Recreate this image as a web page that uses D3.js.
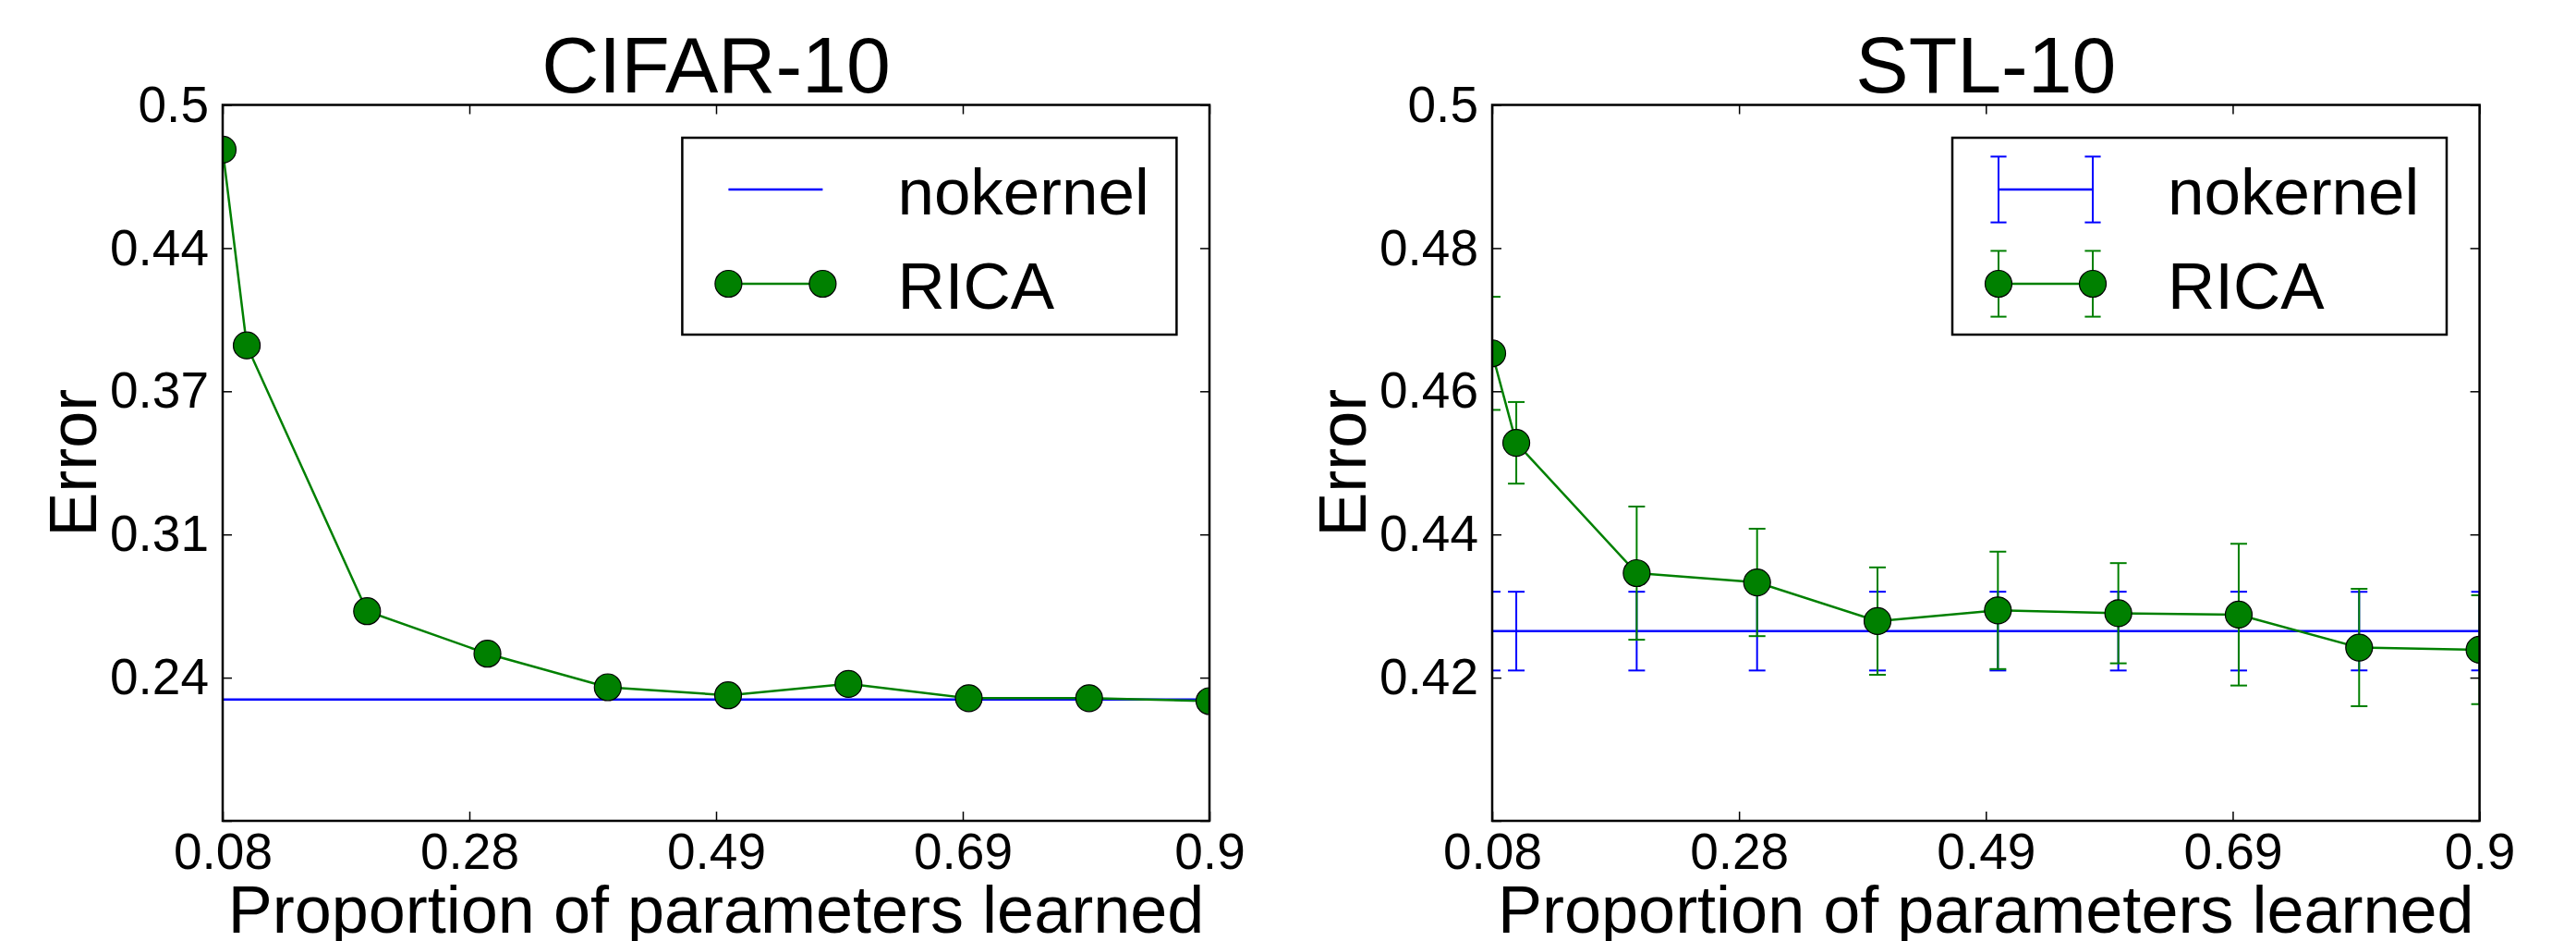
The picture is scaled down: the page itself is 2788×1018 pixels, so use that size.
<!DOCTYPE html>
<html>
<head>
<meta charset="utf-8">
<script src="https://cdn.jsdelivr.net/npm/d3@7/dist/d3.min.js"></script>
<style>
  html, body { margin: 0; padding: 0; background: #fff; }
  svg text { font-family: "Liberation Sans", Arial, Helvetica, sans-serif; fill: #000; }
</style>
</head>
<body>
<svg id="chart" width="2788" height="1018"></svg>
<script>
// ---------------- data ----------------
const proportions = [0.08, 0.1, 0.2, 0.3, 0.4, 0.5, 0.6, 0.7, 0.8, 0.9];

const cifarRica = [0.480, 0.3925, 0.2737, 0.2547, 0.2397, 0.2361, 0.2412, 0.2348, 0.2348, 0.2335];
const cifarNokernel = 0.2342;

const stlRica = [0.4653, 0.4528, 0.4346, 0.4333, 0.4279, 0.4294, 0.4290, 0.4288, 0.4242, 0.4239];
const stlRicaErr = [0.0079, 0.0057, 0.0093, 0.0075, 0.0075, 0.0082, 0.0070, 0.0099, 0.0082, 0.0076];
const stlNokernel = 0.4265;
const stlNokernelErr = 0.0055;

const xTickValues = [0.08, 0.285, 0.49, 0.695, 0.9];
const xTickLabels = ["0.08", "0.28", "0.49", "0.69", "0.9"];

const cifarYTickValues = [0.18, 0.244, 0.308, 0.372, 0.436, 0.5];
const cifarYTickLabels = ["", "0.24", "0.31", "0.37", "0.44", "0.5"];

const stlYTickValues = [0.40, 0.42, 0.44, 0.46, 0.48, 0.50];
const stlYTickLabels = ["", "0.42", "0.44", "0.46", "0.48", "0.5"];

const seriesNames = ["nokernel", "RICA"];
const titles = ["CIFAR-10", "STL-10"];
const xLabel = "Proportion of parameters learned";
const yLabel = "Error";

// ---------------- drawing ----------------
const BLUE = "#0000ff", GREEN = "#008000";
const svg = d3.select("#chart");
svg.append("rect").attr("width", 2788).attr("height", 1018).attr("fill", "#fff");

const panels = [
  { left: 241, right: 1309, title: titles[0], yDomain: [0.18, 0.5],
    yTicks: cifarYTickValues, yLabels: cifarYTickLabels,
    rica: cifarRica, ricaErr: null, nok: cifarNokernel, nokErr: null, ylabX: 104 },
  { left: 1615, right: 2683.6, title: titles[1], yDomain: [0.40, 0.50],
    yTicks: stlYTickValues, yLabels: stlYTickLabels,
    rica: stlRica, ricaErr: stlRicaErr, nok: stlNokernel, nokErr: stlNokernelErr, ylabX: 1478 }
];
const plotTop = 113.5, plotBottom = 888;

panels.forEach((p, pi) => {
  const x = d3.scaleLinear().domain([0.08, 0.9]).range([p.left, p.right]);
  const y = d3.scaleLinear().domain(p.yDomain).range([plotBottom, plotTop]);
  const g = svg.append("g");

  const clipId = "clip" + pi;
  svg.append("clipPath").attr("id", clipId).append("rect")
    .attr("x", p.left).attr("y", plotTop).attr("width", p.right - p.left).attr("height", plotBottom - plotTop);

  const plot = g.append("g").attr("clip-path", `url(#${clipId})`);

  // nokernel
  plot.append("path")
    .datum(proportions)
    .attr("d", d3.line().x(d => x(d)).y(() => y(p.nok)))
    .attr("fill", "none").attr("stroke", BLUE).attr("stroke-width", 2.5);

  const capW = 9;
  function errBars(sel, vals, errs, color) {
    const eb = sel.append("g").attr("stroke", color).attr("stroke-width", 2).attr("fill", "none");
    proportions.forEach((px, i) => {
      const v = Array.isArray(vals) ? vals[i] : vals;
      const e = Array.isArray(errs) ? errs[i] : errs;
      const cx = x(px), y1 = y(v + e), y2 = y(v - e);
      eb.append("line").attr("x1", cx).attr("x2", cx).attr("y1", y1).attr("y2", y2);
      eb.append("line").attr("x1", cx - capW).attr("x2", cx + capW).attr("y1", y1).attr("y2", y1);
      eb.append("line").attr("x1", cx - capW).attr("x2", cx + capW).attr("y1", y2).attr("y2", y2);
    });
  }
  if (p.nokErr !== null) errBars(plot, p.nok, p.nokErr, BLUE);
  if (p.ricaErr !== null) errBars(plot, p.rica, p.ricaErr, GREEN);

  // RICA line + markers
  plot.append("path")
    .datum(p.rica)
    .attr("d", d3.line().x((d, i) => x(proportions[i])).y(d => y(d)))
    .attr("fill", "none").attr("stroke", GREEN).attr("stroke-width", 2.5);
  plot.selectAll("circle.m").data(p.rica).join("circle")
    .attr("cx", (d, i) => x(proportions[i])).attr("cy", d => y(d)).attr("r", 14.5)
    .attr("fill", GREEN).attr("stroke", "#000").attr("stroke-width", 1.2);

  // axes (inward ticks)
  const fontTick = 55;
  const axB = d3.axisBottom(x).tickValues(xTickValues).tickFormat((d, i) => xTickLabels[i])
    .tickSizeInner(-10).tickSizeOuter(0).tickPadding(12.5);
  const axT = d3.axisTop(x).tickValues(xTickValues).tickFormat("").tickSizeInner(-10).tickSizeOuter(0);
  const axL = d3.axisLeft(y).tickValues(p.yTicks).tickFormat((d, i) => p.yLabels[i])
    .tickSizeInner(-10).tickSizeOuter(0).tickPadding(15);
  const axR = d3.axisRight(y).tickValues(p.yTicks).tickFormat("").tickSizeInner(-10).tickSizeOuter(0);

  [[axB, `translate(0,${plotBottom})`], [axT, `translate(0,${plotTop})`],
   [axL, `translate(${p.left},0)`], [axR, `translate(${p.right},0)`]].forEach(([ax, tr]) => {
    const a = g.append("g").attr("transform", tr).call(ax);
    a.select(".domain").remove();
    a.selectAll(".tick line").attr("stroke", "#000").attr("stroke-width", 1.5);
    a.selectAll(".tick text").attr("font-size", fontTick)
      .style("font-family", '"Liberation Sans", Arial, sans-serif').attr("fill", "#000");
  });

  // spines
  g.append("rect").attr("x", p.left).attr("y", plotTop).attr("width", p.right - p.left).attr("height", plotBottom - plotTop)
    .attr("fill", "none").attr("stroke", "#000").attr("stroke-width", 2.5);

  // title and labels
  const cx = (p.left + p.right) / 2;
  g.append("text").attr("x", cx).attr("y", 100).attr("text-anchor", "middle")
    .attr("font-size", 86).text(p.title);
  g.append("text").attr("x", cx).attr("y", 1009).attr("text-anchor", "middle")
    .attr("font-size", 72).text(xLabel);
  g.append("text").attr("transform", `translate(${p.ylabX},${(plotTop + plotBottom) / 2}) rotate(-90)`)
    .attr("text-anchor", "middle").attr("font-size", 72).text(yLabel);

  // legend
  const lx = p.right - 35.6 - 535, ly = 149;
  const lg = g.append("g");
  lg.append("rect").attr("x", lx).attr("y", ly).attr("width", 535).attr("height", 213)
    .attr("fill", "#fff").attr("stroke", "#000").attr("stroke-width", 2.5);
  const sx0 = lx + 50, sx1 = lx + 152, r1 = ly + 56, r2 = ly + 158, eh = 35.6, lcap = 8.6;
  lg.append("line").attr("x1", sx0).attr("x2", sx1).attr("y1", r1).attr("y2", r1)
    .attr("stroke", BLUE).attr("stroke-width", 2.5);
  if (p.nokErr !== null) {
    [sx0, sx1].forEach(sx => {
      lg.append("line").attr("x1", sx).attr("x2", sx).attr("y1", r1 - eh).attr("y2", r1 + eh).attr("stroke", BLUE).attr("stroke-width", 2);
      [r1 - eh, r1 + eh].forEach(yy => lg.append("line").attr("x1", sx - lcap).attr("x2", sx + lcap)
        .attr("y1", yy).attr("y2", yy).attr("stroke", BLUE).attr("stroke-width", 2));
    });
  }
  lg.append("line").attr("x1", sx0).attr("x2", sx1).attr("y1", r2).attr("y2", r2)
    .attr("stroke", GREEN).attr("stroke-width", 2.5);
  if (p.ricaErr !== null) {
    [sx0, sx1].forEach(sx => {
      lg.append("line").attr("x1", sx).attr("x2", sx).attr("y1", r2 - eh).attr("y2", r2 + eh).attr("stroke", GREEN).attr("stroke-width", 2);
      [r2 - eh, r2 + eh].forEach(yy => lg.append("line").attr("x1", sx - lcap).attr("x2", sx + lcap)
        .attr("y1", yy).attr("y2", yy).attr("stroke", GREEN).attr("stroke-width", 2));
    });
  }
  [sx0, sx1].forEach(sx => lg.append("circle").attr("cx", sx).attr("cy", r2).attr("r", 14.5)
    .attr("fill", GREEN).attr("stroke", "#000").attr("stroke-width", 1.2));
  lg.append("text").attr("x", lx + 233).attr("y", r1 + 27).attr("font-size", 71).text(seriesNames[0]);
  lg.append("text").attr("x", lx + 233).attr("y", r2 + 27).attr("font-size", 71).text(seriesNames[1]);
});
</script>
</body>
</html>
